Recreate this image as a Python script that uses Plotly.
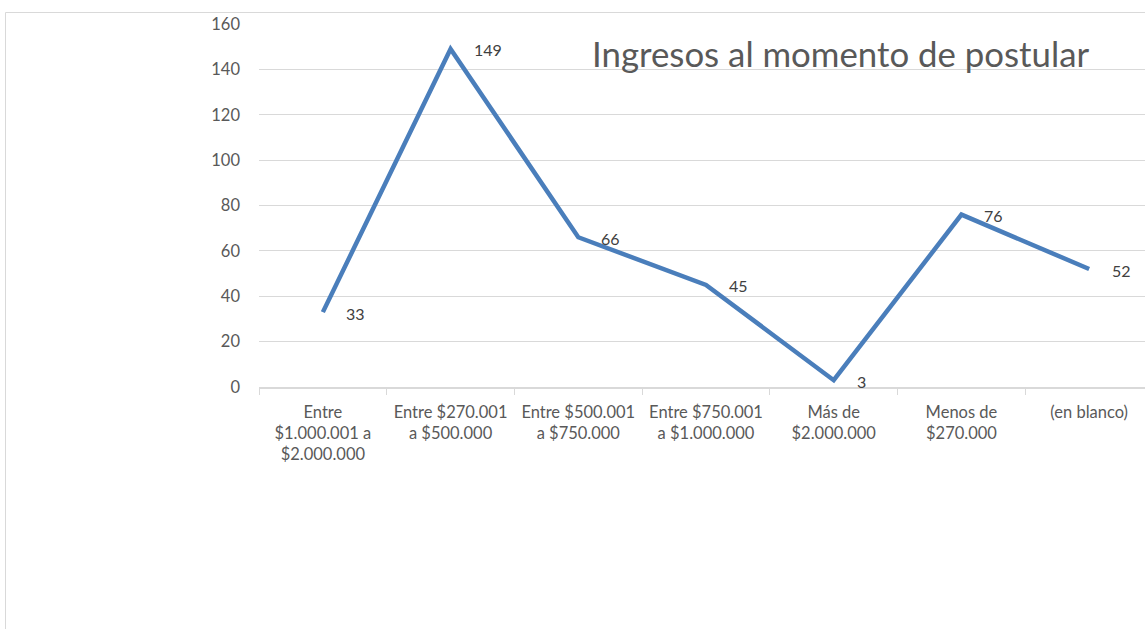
import plotly.graph_objects as go

categories = ["Entre<br>$1.000.001 a<br>$2.000.000", "Entre $270.001<br>a $500.000",
              "Entre $500.001<br>a $750.000", "Entre $750.001<br>a $1.000.000",
              "Más de<br>$2.000.000", "Menos de<br>$270.000", "(en blanco)"]
values = [33, 149, 66, 45, 3, 76, 52]
title_text = "Ingresos al momento de postular"

W, H = 1145, 629
L, R, T, B = 259, 0, 24, 242
plot_w = W - L - R
full_w = 894
x_hi = -0.5 + 7 * plot_w / full_w

FONT = "Lato"
GRAY = "#595959"
GRID = "#d9d9d9"

fig = go.Figure()
fig.add_trace(go.Scatter(
    x=categories, y=values, mode="lines",
    line=dict(color="#4a7ebb", width=4.5),
    hoverinfo="skip", showlegend=False, cliponaxis=False,
))

for c, v in zip(categories, values):
    fig.add_annotation(x=c, y=v, text=str(v), showarrow=False,
                       xanchor="left", yanchor="middle", xshift=21, yshift=-1,
                       font=dict(family=FONT, size=16, color="#404040"))

fig.add_annotation(xref="paper", yref="paper", x=(590 - L) / plot_w, y=(387 - 53) / 363,
                   xanchor="left", yanchor="middle", text=title_text, showarrow=False,
                   font=dict(family=FONT, size=34.8, color=GRAY))

fig.add_shape(type="rect", xref="paper", yref="paper",
              x0=(5.5 - L) / plot_w, x1=1.2, y0=-1.0, y1=(387 - 12.5) / 363,
              line=dict(color=GRID, width=1), layer="below")

fig.update_layout(
    width=W, height=H,
    margin=dict(l=L, r=R, t=T, b=B, pad=0),
    paper_bgcolor="white", plot_bgcolor="white",
    font=dict(family=FONT, color=GRAY, size=16.5),
    xaxis=dict(type="category", range=[-0.5, x_hi], tickson="boundaries",
               ticks="outside", ticklen=6, tickcolor=GRID, tickwidth=1,
               showline=True, linecolor=GRID, linewidth=1.5, showgrid=False,
               tickfont=dict(family=FONT, size=16.5, color=GRAY), ticklabelstandoff=9),
    yaxis=dict(range=[0, 160], dtick=20, showgrid=True, gridcolor=GRID, gridwidth=1,
               zeroline=False, showline=False, ticks="",
               tickfont=dict(family=FONT, size=16.5, color=GRAY), ticklabelstandoff=18),
)

fig.write_html("out.html", config={"displayModeBar": False},
               post_script="document.body.style.margin='0';document.body.style.overflow='hidden';")
